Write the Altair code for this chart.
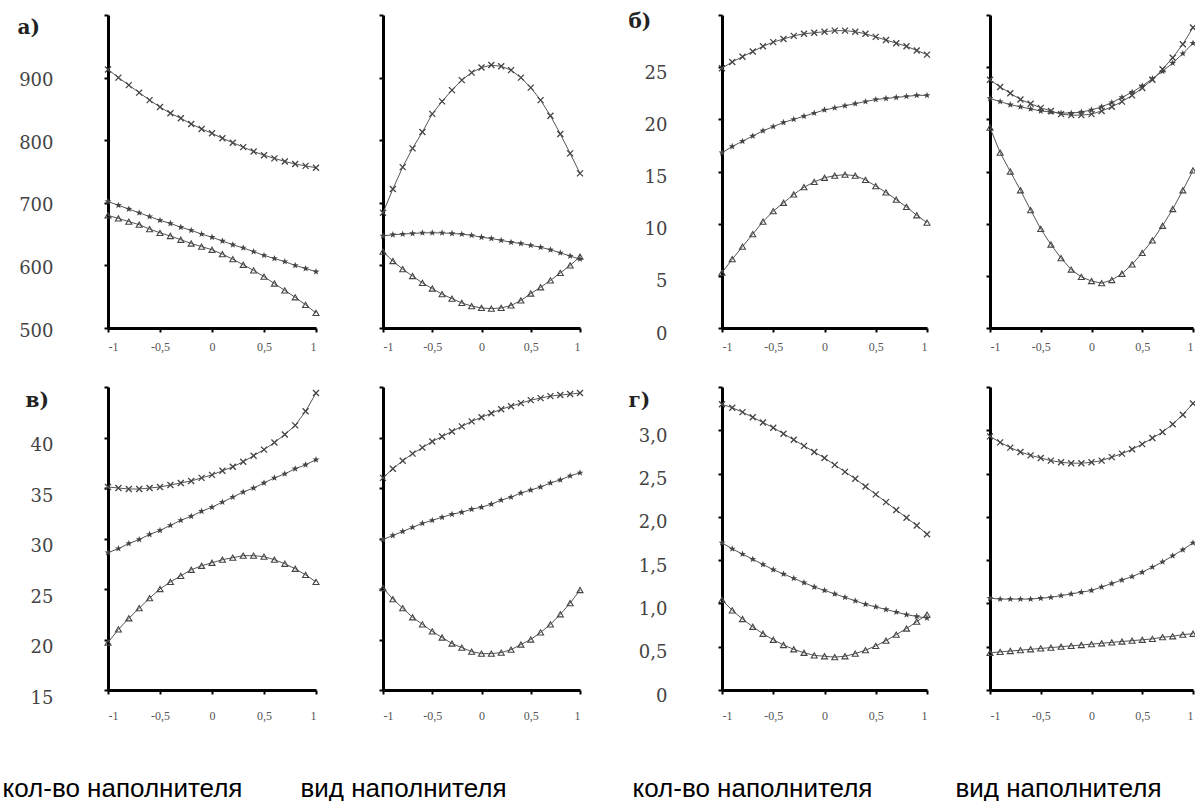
import altair as alt
import pandas as pd

# ---------------- data ----------------
X = [-1.0, -0.9, -0.8, -0.7, -0.6, -0.5, -0.4, -0.3, -0.2, -0.1, 0.0,
     0.1, 0.2, 0.3, 0.4, 0.5, 0.6, 0.7, 0.8, 0.9, 1.0]
X_TICKS = [-1, -0.5, 0, 0.5, 1]

# а)
a1_top = [913, 900, 888, 876, 864, 853, 843, 835, 826, 818, 811, 803, 796, 789, 782, 776, 771, 766, 762, 759, 756]
a1_mid = [702, 696, 690, 684, 678, 672, 667, 661, 656, 650, 645, 639, 633, 628, 622, 616, 611, 606, 600, 595, 590]
a1_bot = [680, 675, 670, 665, 658, 652, 647, 641, 635, 630, 625, 618, 610, 601, 592, 582, 571, 560, 549, 537, 524]
a2_top = [684, 722, 757, 787, 813, 842, 862, 880, 896, 908, 916, 920, 918, 912, 900, 884, 864, 839, 810, 779, 747]
a2_mid = [647, 649, 650, 651, 652, 652, 652, 651, 650, 648, 645, 643, 640, 637, 635, 632, 629, 625, 620, 615, 610]
a2_bot = [622, 607, 594, 583, 572, 563, 554, 547, 540, 535, 532, 531, 532, 536, 544, 555, 565, 576, 588, 600, 614]

# б)
b1_top = [24.9, 25.5, 26.0, 26.5, 27.0, 27.4, 27.7, 28.0, 28.2, 28.3, 28.4, 28.5, 28.5, 28.4, 28.2, 27.9, 27.6, 27.3, 27.0, 26.6, 26.2]
b1_mid = [16.8, 17.4, 17.9, 18.4, 18.9, 19.3, 19.7, 20.0, 20.3, 20.6, 20.9, 21.1, 21.3, 21.5, 21.7, 21.9, 22.0, 22.1, 22.2, 22.3, 22.3]
b1_bot = [5.3, 6.6, 7.8, 9.0, 10.2, 11.2, 12.0, 12.8, 13.5, 14.0, 14.4, 14.6, 14.7, 14.6, 14.2, 13.6, 13.0, 12.3, 11.6, 10.8, 10.1]
b2_top = [23.8, 23.1, 22.5, 21.9, 21.5, 21.1, 20.8, 20.5, 20.4, 20.4, 20.5, 20.8, 21.2, 21.7, 22.3, 23.0, 23.8, 24.8, 25.9, 27.2, 28.8]
b2_mid = [22.0, 21.7, 21.4, 21.2, 21.0, 20.8, 20.7, 20.6, 20.6, 20.7, 20.9, 21.2, 21.6, 22.1, 22.6, 23.2, 23.9, 24.6, 25.4, 26.3, 27.3]
b2_bot = [19.2, 16.8, 15.0, 13.2, 11.3, 9.5, 8.0, 6.7, 5.6, 4.9, 4.5, 4.3, 4.6, 5.2, 6.1, 7.2, 8.4, 9.8, 11.4, 13.2, 15.1]

# в)
c1_top = [35.1, 35.0, 34.9, 34.9, 35.0, 35.1, 35.3, 35.5, 35.7, 36.0, 36.3, 36.7, 37.1, 37.6, 38.2, 38.8, 39.5, 40.3, 41.2, 42.6, 44.4]
c1_mid = [28.6, 29.0, 29.5, 29.9, 30.4, 30.8, 31.3, 31.8, 32.2, 32.7, 33.1, 33.6, 34.1, 34.6, 35.0, 35.5, 36.0, 36.4, 36.9, 37.3, 37.8]
c1_bot = [19.7, 21.0, 22.1, 23.1, 24.1, 25.0, 25.7, 26.3, 26.9, 27.3, 27.6, 27.9, 28.1, 28.3, 28.3, 28.2, 27.9, 27.5, 27.0, 26.4, 25.7]
c2_top = [36.0, 36.9, 37.7, 38.4, 39.0, 39.6, 40.1, 40.6, 41.1, 41.6, 42.0, 42.4, 42.8, 43.1, 43.4, 43.7, 43.9, 44.1, 44.2, 44.3, 44.4]
c2_mid = [29.9, 30.3, 30.7, 31.1, 31.5, 31.8, 32.1, 32.4, 32.6, 32.9, 33.1, 33.4, 33.8, 34.1, 34.5, 34.8, 35.1, 35.5, 35.8, 36.2, 36.5]
c2_bot = [25.1, 24.0, 23.1, 22.2, 21.5, 20.8, 20.2, 19.6, 19.2, 18.8, 18.6, 18.6, 18.7, 19.0, 19.5, 20.0, 20.7, 21.5, 22.5, 23.6, 24.9]

# г)
d1_top = [3.30, 3.26, 3.21, 3.15, 3.09, 3.03, 2.96, 2.89, 2.82, 2.75, 2.68, 2.60, 2.52, 2.44, 2.35, 2.26, 2.17, 2.08, 1.99, 1.90, 1.80]
d1_mid = [1.70, 1.63, 1.57, 1.51, 1.45, 1.39, 1.34, 1.29, 1.24, 1.19, 1.15, 1.11, 1.07, 1.03, 0.99, 0.96, 0.93, 0.90, 0.87, 0.85, 0.83]
d1_bot = [1.04, 0.92, 0.82, 0.73, 0.65, 0.58, 0.52, 0.47, 0.43, 0.40, 0.39, 0.38, 0.39, 0.42, 0.46, 0.51, 0.57, 0.64, 0.71, 0.79, 0.87]
d2_top = [2.93, 2.86, 2.80, 2.75, 2.71, 2.68, 2.65, 2.63, 2.62, 2.62, 2.63, 2.65, 2.69, 2.73, 2.78, 2.84, 2.91, 2.98, 3.07, 3.18, 3.31]
d2_mid = [1.06, 1.05, 1.05, 1.05, 1.05, 1.06, 1.07, 1.09, 1.11, 1.13, 1.15, 1.19, 1.23, 1.27, 1.31, 1.36, 1.42, 1.48, 1.55, 1.62, 1.70]
d2_bot = [0.43, 0.44, 0.45, 0.46, 0.47, 0.48, 0.49, 0.50, 0.51, 0.52, 0.53, 0.54, 0.55, 0.56, 0.57, 0.58, 0.59, 0.61, 0.62, 0.64, 0.65]

A_TICKS = [500, 600, 700, 800, 900, 1000]
B_TICKS = [0, 5, 10, 15, 20, 25, 30]
C_TICKS = [15, 20, 25, 30, 35, 40, 45]
D_TICKS = [0, 0.5, 1.0, 1.5, 2.0, 2.5, 3.0, 3.5]

LETTERS = ["а)", "б)", "в)", "г)"]
XTITLES = ["кол-во наполнителя", "вид наполнителя"]

# ---------------- layout / styling ----------------
W_ALL, H_ALL = 1195, 801
COLS = [(108, 316), (383, 580), (722, 927), (990, 1193)]
ROW_TOP = (328, 15)
ROW_BOT = (690, 387)

XPATH = "M-1,-1L1,1M-1,1L1,-1"
STAR = ("M0,-1L0.24,-0.33L0.95,-0.31L0.39,0.13L0.59,0.81L0,0.41"
        "L-0.59,0.81L-0.39,0.13L-0.95,-0.31L-0.24,-0.33Z")
INK = "#444444"


def panel(top, mid, bot, xr, yr, ydom, yticks, show_ylabels=False, ylab_expr=None,
          lab_off=0, xlab_pad=9, letter=None, letter_xy=(0, 0),
          xtitle=None, xtitle_xy=(0, 0)):
    df = pd.DataFrame({
        "x": X * 3,
        "v": list(top) + list(mid) + list(bot),
        "s": ["top"] * 21 + ["mid"] * 21 + ["bot"] * 21,
    })
    xk = dict(orient="bottom", offset=yr[0] - H_ALL, values=X_TICKS,
              labelExpr="replace(toString(datum.value), '.', ',')",
              domainColor="black", domainWidth=3, tickColor="black", tickWidth=2,
              tickSize=4, labelFont="Liberation Serif", labelFontSize=12,
              labelColor="#555", labelPadding=xlab_pad, labelAngle=0, grid=False)
    if xtitle:
        xk.update(title=xtitle, titleX=xtitle_xy[0], titleY=xtitle_xy[1],
                  titleAlign="left", titleBaseline="middle",
                  titleFont="Liberation Sans", titleFontSize=26,
                  titleFontWeight="normal", titleColor="black")
    else:
        xk["title"] = None
    yk = dict(orient="left", offset=-xr[0], values=yticks, domainColor="black",
              domainWidth=3, tickColor="black", tickWidth=2, tickSize=4, grid=False)
    if show_ylabels:
        yk.update(labelExpr=ylab_expr, labelFont="DejaVu Serif", labelFontSize=18,
                  labelColor="#444", labelPadding=51, labelOffset=lab_off)
    else:
        yk["labels"] = False
    if letter:
        yk.update(title=letter, titleAngle=0, titleX=letter_xy[0] - xr[0],
                  titleY=letter_xy[1], titleAlign="left", titleBaseline="middle",
                  titleFont="DejaVu Serif", titleFontSize=20,
                  titleFontWeight="bold", titleColor="#222")
    else:
        yk["title"] = None

    xs = alt.Scale(domain=[-1, 1], range=list(xr), nice=False, zero=False)
    ys = alt.Scale(domain=ydom, range=list(yr), nice=False, zero=False)
    base = alt.Chart(df).encode(
        x=alt.X("x:Q", scale=xs, axis=alt.Axis(**xk)),
        y=alt.Y("v:Q", scale=ys, axis=alt.Axis(**yk)),
    )
    line = base.mark_line(color="#555", strokeWidth=1).encode(detail="s:N")
    p_top = base.transform_filter("datum.s == 'top'").mark_point(
        shape=XPATH, size=36, filled=False, color=INK, strokeWidth=1.3, opacity=1)
    p_mid = base.transform_filter("datum.s == 'mid'").mark_point(
        shape=STAR, size=52, filled=True, color=INK, opacity=1)
    p_bot = base.transform_filter("datum.s == 'bot'").mark_point(
        shape="triangle-up", size=36, filled=False, color=INK, strokeWidth=1.1, opacity=1)
    return alt.layer(line, p_top, p_mid, p_bot)


lab_a = "datum.value >= 1000 ? '' : datum.label"
lab_b = "datum.value >= 30 ? '' : datum.label"
lab_c = "datum.value >= 45 ? '' : datum.label"
lab_d = ("datum.value >= 3.5 ? '' : (datum.value == 0 ? '0' : "
         "replace(format(datum.value, '.1f'), '.', ','))")

TY = 788 - ROW_BOT[0]

panels = [
    panel(a1_top, a1_mid, a1_bot, COLS[0], ROW_TOP, [500, 1000], A_TICKS, True, lab_a, 3, 9,
          LETTERS[0], (17, 27)),
    panel(a2_top, a2_mid, a2_bot, COLS[1], ROW_TOP, [500, 1000], A_TICKS),
    panel(b1_top, b1_mid, b1_bot, COLS[2], ROW_TOP, [0, 30], B_TICKS, True, lab_b, 6, 9,
          LETTERS[1], (628, 21)),
    panel(b2_top, b2_mid, b2_bot, COLS[3], ROW_TOP, [0, 30], B_TICKS),
    panel(c1_top, c1_mid, c1_bot, COLS[0], ROW_BOT, [15, 45], C_TICKS, True, lab_c, 8, 16,
          LETTERS[2], (25, 400), XTITLES[0], (2, TY)),
    panel(c2_top, c2_mid, c2_bot, COLS[1], ROW_BOT, [15, 45], C_TICKS, xlab_pad=16,
          xtitle=XTITLES[1], xtitle_xy=(300, TY)),
    panel(d1_top, d1_mid, d1_bot, COLS[2], ROW_BOT, [0, 3.5], D_TICKS, True, lab_d, 6, 16,
          LETTERS[3], (628, 400), XTITLES[0], (632, TY)),
    panel(d2_top, d2_mid, d2_bot, COLS[3], ROW_BOT, [0, 3.5], D_TICKS, xlab_pad=16,
          xtitle=XTITLES[1], xtitle_xy=(955, TY)),
]

chart = alt.layer(*panels).resolve_scale(
    x="independent", y="independent"
).resolve_axis(
    x="independent", y="independent"
).properties(
    width=W_ALL, height=H_ALL,
    autosize=alt.AutoSizeParams(type="none"),
    padding=0,
    background="white",
).configure_view(stroke=None)

chart.save("out.html", embed_options={"renderer": "svg", "actions": False})
